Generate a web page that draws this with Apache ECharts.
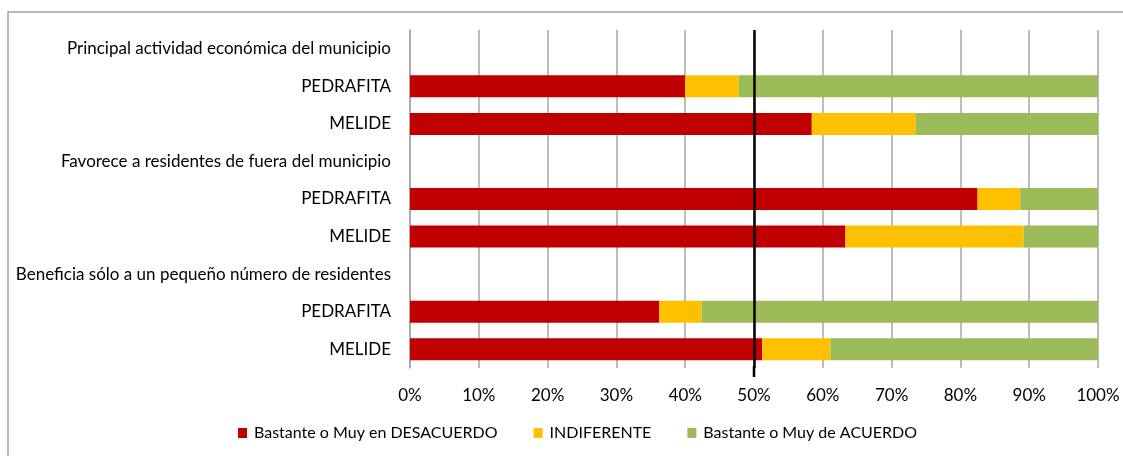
<!DOCTYPE html>
<html><head><meta charset="utf-8">
<script src="https://cdn.jsdelivr.net/npm/echarts@6/dist/echarts.min.js"></script>
<style>html,body{margin:0;padding:0;background:#fff}#c{width:1123px;height:456px}</style>
</head><body><div id="c"></div>
<script>
const categories = [
  "Principal actividad económica del municipio", "PEDRAFITA", "MELIDE",
  "Favorece a residentes de fuera del municipio", "PEDRAFITA", "MELIDE",
  "Beneficia sólo a un pequeño número de residentes", "PEDRAFITA", "MELIDE"
];
const desacuerdo  = [null, 40.0, 58.4, null, 82.5, 63.3, null, 36.2, 51.2];
const indiferente = [null, 7.8, 15.1, null, 6.2, 25.9, null, 6.2, 9.9];
const acuerdo     = [null, 52.2, 26.5, null, 11.3, 10.8, null, 57.6, 38.9];
const seriesNames = ["Bastante o Muy en DESACUERDO", "INDIFERENTE", "Bastante o Muy de ACUERDO"];
const tickValues = [0,10,20,30,40,50,60,70,80,90,100];
const refLine = 50;

const FONT = "Lato, 'Open Sans', sans-serif";
const FS = 17;
const colors = ["#c00000", "#ffc000", "#9bbb59"];
const chart = echarts.init(document.getElementById('c'));
const mk = (name, data, i) => ({
  name, type: 'bar', stack: 'total', data, barWidth: 22,
  itemStyle: { color: colors[i] }, emphasis: { disabled: true }
});
const series = [mk(seriesNames[0], desacuerdo, 0), mk(seriesNames[1], indiferente, 1), mk(seriesNames[2], acuerdo, 2)];
series[2].markLine = {
  silent: true, symbol: 'none', label: { show: false },
  lineStyle: { color: '#000', width: 2.5, type: 'solid' },
  data: [{ xAxis: refLine }]
};
const GRID_BOTTOM = 88;
chart.setOption({
  animation: false,
  textStyle: { fontFamily: FONT },
  grid: { left: 410, right: 25, top: 30, bottom: GRID_BOTTOM, containLabel: false },
  legend: {
    bottom: 10, left: 233, itemWidth: 9, itemHeight: 10, itemGap: 36,
    icon: 'rect', data: seriesNames,
    textStyle: { fontFamily: FONT, fontSize: 16, color: '#000', padding: [0, 0, 0, 2] }
  },
  xAxis: {
    type: 'value', min: 0, max: 100, interval: 10,
    axisLine: { show: false }, axisTick: { show: false },
    splitLine: { show: true, lineStyle: { color: '#a6a6a6', width: 1.5 } },
    axisLabel: { formatter: v => tickValues.includes(v) ? v + '%' : '', fontFamily: FONT, fontSize: FS, color: '#000', margin: 19 }
  },
  yAxis: {
    type: 'category', data: categories, inverse: true,
    axisLine: { show: true, lineStyle: { color: '#a6a6a6', width: 1.5 } },
    axisTick: { show: false },
    axisLabel: { fontFamily: FONT, fontSize: FS, color: '#000', margin: 19 }
  },
  series
});
const xRef = chart.convertToPixel({ xAxisIndex: 0 }, refLine);
const yBot = 456 - GRID_BOTTOM;
chart.setOption({
  graphic: [
    { type: 'rect', shape: { x: 8, y: 12, width: 1300, height: 600 },
      style: { fill: null, stroke: '#a0a0a0', lineWidth: 1.5 }, silent: true, z: -1 },
    { type: 'line', shape: { x1: xRef, y1: yBot - 2, x2: xRef, y2: yBot + 9 },
      style: { stroke: '#000', lineWidth: 2.5 }, silent: true, z: 10 }
  ]
});
</script></body></html>
